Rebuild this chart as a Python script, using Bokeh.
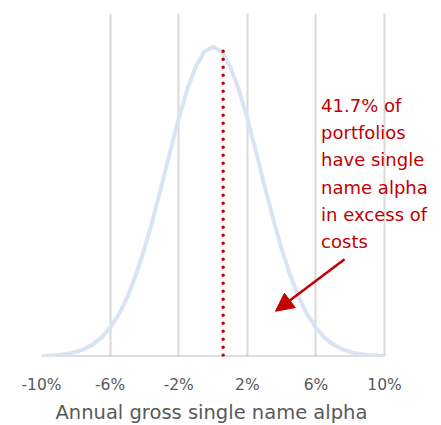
from bokeh.plotting import figure
from bokeh.models import FixedTicker, Label, Arrow, NormalHead, Range1d, Title
from bokeh.embed import file_html
from bokeh.resources import INLINE

# Data
alpha_pct = [-10, -9.5, -9, -8.5, -8, -7.5, -7, -6.5, -6, -5.5, -5, -4.5, -4, -3.5, -3, -2.5, -2, -1.5, -1, -0.5,
             0, 0.5, 1, 1.5, 2, 2.5, 3, 3.5, 4, 4.5, 5, 5.5, 6, 6.5, 7, 7.5, 8, 8.5, 9, 9.5, 10]
density = [0.001, 0.003, 0.005, 0.008, 0.015, 0.024, 0.039, 0.061, 0.093, 0.135, 0.191, 0.262, 0.347, 0.445, 0.552,
           0.662, 0.768, 0.862, 0.936, 0.984, 1.0, 0.984, 0.936, 0.862, 0.768, 0.662, 0.552, 0.445, 0.347, 0.262,
           0.191, 0.135, 0.093, 0.061, 0.039, 0.024, 0.015, 0.008, 0.005, 0.003, 0.001]
cost_threshold = 0.59
threshold_height = 0.985
axis_min, axis_max = -10, 10
tick_values = [-10, -6, -2, 2, 6, 10]
tick_labels = ["-10%", "-6%", "-2%", "2%", "6%", "10%"]
x_title = "Annual gross single name alpha"
note_text = "41.7% of\nportfolios\nhave single\nname alpha\nin excess of\ncosts"
arrow_start = (7.67, 0.314)
arrow_end = (3.64, 0.146)

FONT = "DejaVu Sans"
RED = "#C00000"
GREY_TEXT = "#595959"

p = figure(width=441, height=425, output_backend="svg", toolbar_location=None,
           x_range=Range1d(-10, 13.32), y_range=Range1d(0, 1.107),
           min_border_left=41, min_border_right=0, min_border_top=13, min_border_bottom=20)
p.outline_line_color = None
p.background_fill_color = "white"
p.border_fill_color = "white"

p.yaxis.visible = False
p.ygrid.visible = False

p.xgrid.ticker = FixedTicker(ticks=tick_values)
p.xgrid.grid_line_color = "#D9D9D9"
p.xgrid.grid_line_width = 2

ax = p.xaxis[0]
ax.ticker = FixedTicker(ticks=tick_values)
ax.major_label_overrides = {v: l for v, l in zip(tick_values, tick_labels)}
ax.axis_line_color = None
ax.major_tick_line_color = None
ax.major_tick_out = 0
ax.major_tick_in = 0
ax.minor_tick_line_color = None
ax.minor_tick_out = 0
ax.major_label_text_font = FONT
ax.major_label_text_font_size = "15.5px"
ax.major_label_text_color = GREY_TEXT
ax.major_label_standoff = 19

# axis title centred under the tick range (not the whole frame)
p.add_layout(Title(text=x_title, text_font=FONT, text_font_size="19.5px", text_font_style="normal",
                   text_color=GREY_TEXT, align="left", offset=14, standoff=4), "below")

# baseline of the chart (x axis line) spanning the tick range
p.segment(x0=[axis_min], y0=[0], x1=[axis_max], y1=[0], line_color="#BFBFBF", line_width=2)

p.line(alpha_pct, density, line_color="#DAE3F3", line_width=4)

p.segment(x0=[cost_threshold], y0=[threshold_height], x1=[cost_threshold], y1=[0],
          line_color=RED, line_width=3.5, line_dash="0 8", line_cap="round")

p.add_layout(Arrow(end=NormalHead(size=18, fill_color=RED, line_color=RED),
                   x_start=arrow_start[0], y_start=arrow_start[1],
                   x_end=arrow_end[0], y_end=arrow_end[1],
                   line_color=RED, line_width=2.5))

p.add_layout(Label(x=6.3, y=0.845, text=note_text, text_font=FONT, text_font_size="18px",
                   text_color=RED, text_baseline="top", text_align="left", text_line_height=1.3))

open("out.html", "w").write(file_html(p, INLINE))
